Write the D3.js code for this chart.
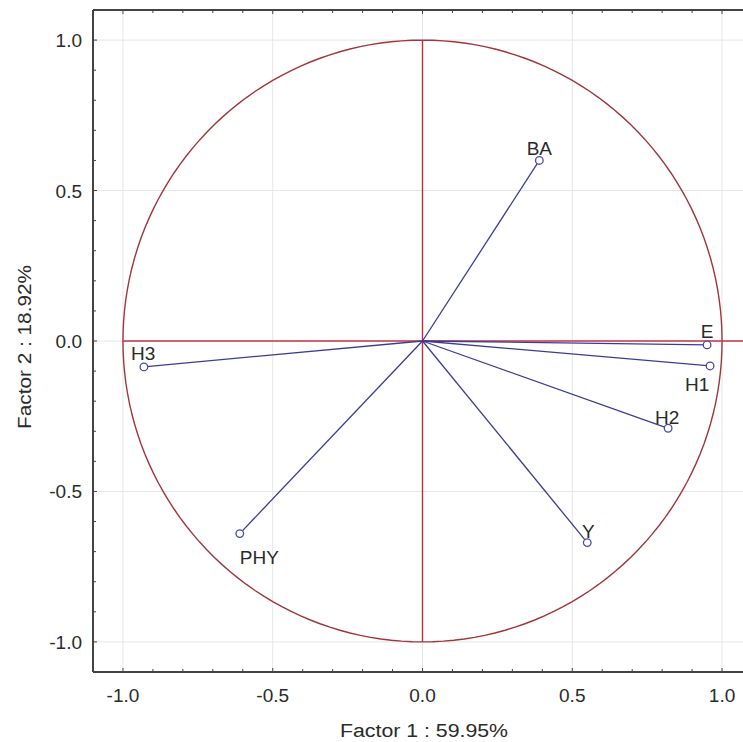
<!DOCTYPE html>
<html><head><meta charset="utf-8">
<script src="https://cdn.jsdelivr.net/npm/d3@7"></script>
<style>body{margin:0;background:#fff;overflow:hidden;}svg{display:block;}</style>
</head><body>
<script>
const variables = ["BA", "E", "H1", "H2", "H3", "PHY", "Y"];
const factor1 = [0.39, 0.95, 0.96, 0.82, -0.93, -0.61, 0.55];
const factor2 = [0.60, -0.013, -0.083, -0.29, -0.086, -0.64, -0.67];
const majorTicks = [-1.0, -0.5, 0.0, 0.5, 1.0];
const tickLabels = ["-1.0", "-0.5", "0.0", "0.5", "1.0"];
const xTitle = "Factor 1 : 59.95%";
const yTitle = "Factor 2 : 18.92%";

const W = 743, H = 742;
const svg = d3.select("body").append("svg").attr("width", W).attr("height", H);
const x = d3.scaleLinear().domain([-1.1, 1.1]).range([93, 752]);
const y = d3.scaleLinear().domain([-1.1, 1.1]).range([672, 10]);
const font = "Liberation Sans, Arial, sans-serif";
const txtCol = "#2a2a2a";

// grid
const g = svg.append("g");
g.selectAll(".gx").data(majorTicks).join("line")
  .attr("x1", d => x(d)).attr("x2", d => x(d)).attr("y1", 10).attr("y2", 672)
  .attr("stroke", "#e6e6e6").attr("stroke-width", 1);
g.selectAll(".gy").data(majorTicks).join("line")
  .attr("y1", d => y(d)).attr("y2", d => y(d)).attr("x1", 93).attr("x2", 752)
  .attr("stroke", "#e6e6e6").attr("stroke-width", 1);

// unit circle
const circ = d3.range(0, 361, 2).map(a => [Math.cos(a * Math.PI / 180), Math.sin(a * Math.PI / 180)]);
svg.append("path").datum(circ)
  .attr("d", d3.line().x(d => x(d[0])).y(d => y(d[1])))
  .attr("fill", "none").attr("stroke", "#a0363c").attr("stroke-width", 1.4);

// cross lines
svg.append("line").attr("x1", x(-1)).attr("x2", x(1.1)).attr("y1", y(0)).attr("y2", y(0))
  .attr("stroke", "#c8324a").attr("stroke-width", 1.6);
svg.append("line").attr("x1", x(0)).attr("x2", x(0)).attr("y1", y(1)).attr("y2", y(-1))
  .attr("stroke", "#b83040").attr("stroke-width", 1.4);

// vectors
const pts = variables.map((v, i) => ({name: v, a: factor1[i], b: factor2[i]}));
svg.selectAll(".vec").data(pts).join("line")
  .attr("x1", x(0)).attr("y1", y(0)).attr("x2", d => x(d.a)).attr("y2", d => y(d.b))
  .attr("stroke", "#3c3c96").attr("stroke-width", 1.3);
svg.selectAll(".pt").data(pts).join("circle")
  .attr("cx", d => x(d.a)).attr("cy", d => y(d.b)).attr("r", 3.8)
  .attr("fill", "#fff").attr("stroke", "#4a4aa8").attr("stroke-width", 1.3);

// labels offsets (dx, dy, anchor)
const labelPos = {
  BA: [0, -5, "middle"], E: [0, -7, "middle"], H1: [-13, 25, "middle"],
  H2: [-1, -4, "middle"], H3: [-13, -7, "start"], PHY: [0, 30, "start"], Y: [1, -5, "middle"]
};
svg.selectAll(".lbl").data(pts).join("text")
  .attr("x", d => x(d.a) + labelPos[d.name][0])
  .attr("y", d => y(d.b) + labelPos[d.name][1])
  .attr("text-anchor", d => labelPos[d.name][2])
  .attr("font-family", font).attr("font-size", 19).attr("fill", txtCol)
  .text(d => d.name);

// frame
const fr = svg.append("g").attr("stroke", "#444").attr("stroke-width", 2);
fr.append("line").attr("x1", 93).attr("x2", 752).attr("y1", 10).attr("y2", 10);
fr.append("line").attr("x1", 93).attr("x2", 752).attr("y1", 672).attr("y2", 672);
fr.append("line").attr("x1", 93).attr("x2", 93).attr("y1", 10).attr("y2", 672);

// ticks inward
const minor = d3.range(-11, 12).map(i => i / 10);
const tk = svg.append("g").attr("stroke", "#444").attr("stroke-width", 1);
minor.forEach(v => {
  const isMaj = Math.abs(v * 2 - Math.round(v * 2)) < 1e-9;
  const len = isMaj ? 4 : 3;
  tk.append("line").attr("x1", x(v)).attr("x2", x(v)).attr("y1", 672).attr("y2", 672 - len);
  tk.append("line").attr("x1", x(v)).attr("x2", x(v)).attr("y1", 10).attr("y2", 10 + len);
  tk.append("line").attr("y1", y(v)).attr("y2", y(v)).attr("x1", 93).attr("x2", 93 + len);
});

// tick labels
svg.selectAll(".xt").data(majorTicks).join("text")
  .attr("x", d => x(d)).attr("y", 702).attr("text-anchor", "middle")
  .attr("font-family", font).attr("font-size", 19).attr("fill", txtCol)
  .text((d, i) => tickLabels[i]);
svg.selectAll(".yt").data(majorTicks).join("text")
  .attr("x", 82).attr("y", d => y(d) + 7).attr("text-anchor", "end")
  .attr("font-family", font).attr("font-size", 19).attr("fill", txtCol)
  .text((d, i) => tickLabels[i]);

// axis titles
svg.append("text").attr("x", 424).attr("y", 737).attr("text-anchor", "middle")
  .attr("font-family", font).attr("font-size", 18).attr("fill", txtCol)
  .attr("textLength", 168).attr("lengthAdjust", "spacingAndGlyphs").text(xTitle);
svg.append("text").attr("transform", "translate(31,347) rotate(-90)").attr("text-anchor", "middle")
  .attr("font-family", font).attr("font-size", 18).attr("fill", txtCol)
  .attr("textLength", 164).attr("lengthAdjust", "spacingAndGlyphs").text(yTitle);
</script>
</body></html>
